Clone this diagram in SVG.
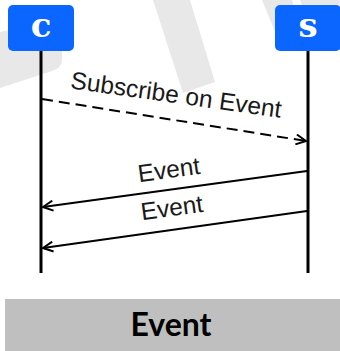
<svg xmlns="http://www.w3.org/2000/svg" width="340" height="351" viewBox="0 0 340 351">
<defs>
<style>
.wm{fill:#e8e8e8}
.box{fill:#0a66ff}
.boxtxt{font-family:"DejaVu Serif",serif;font-weight:bold;font-size:34px;fill:#ffffff;text-anchor:middle}
.life{stroke:#000;stroke-width:3}
.msg{stroke:#000;stroke-width:2;fill:none}
.lbl{font-family:"Liberation Sans",Arial,sans-serif;font-size:24.5px;fill:#1a1a1a;text-anchor:middle}
.bar{fill:#bfbfbf}
.bartxt{font-family:Lato,"Liberation Sans",sans-serif;font-weight:bold;font-size:32px;fill:#000;text-anchor:middle}
</style>
<marker id="arr" viewBox="0 0 12 12" refX="11" refY="6" markerWidth="12" markerHeight="12" markerUnits="userSpaceOnUse" orient="auto">
<path d="M1,1 L11,6 L1,11" fill="none" stroke="#000" stroke-width="2"/>
</marker>
</defs>
<g id="watermark">
<polygon class="wm" points="153,0 190,0 215,82 183,93"/>
<path class="wm" d="M0,32 L45,22 L55,22 Q62,24 62,40 L62,60 Q62,68 52,71 L0,88 Z"/>
<polygon class="wm" points="262,0 292,0 300,28 276,34"/>
<polygon class="wm" points="300,0 340,0 340,13 306,17"/>
</g>
<g id="connectors">
<line class="life" x1="41" y1="50" x2="41" y2="273"/>
<line class="life" x1="308" y1="50" x2="308" y2="273"/>
<line class="msg" x1="42" y1="99" x2="306" y2="141" stroke-dasharray="11,6" marker-end="url(#arr)"/>
<line class="msg" x1="307" y1="171" x2="43" y2="207" marker-end="url(#arr)"/>
<line class="msg" x1="307" y1="211" x2="43" y2="248" marker-end="url(#arr)"/>
<text class="lbl" transform="translate(175,103) rotate(8)">Subscribe on Event</text>
<text class="lbl" transform="translate(170,178) rotate(-7.8)">Event</text>
<text class="lbl" transform="translate(173,216) rotate(-7.8)">Event</text>
</g>
<g id="node-c">
<rect class="box" x="8" y="5" width="66" height="46" rx="5"/>
<text class="boxtxt" x="41" y="37">c</text>
</g>
<g id="node-s">
<rect class="box" x="275" y="5" width="66" height="46" rx="5"/>
<text class="boxtxt" x="308" y="37">s</text>
</g>
<g id="footer">
<rect class="bar" x="5" y="299" width="335" height="52"/>
<text class="bartxt" x="171" y="336">Event</text>
</g>
</svg>
